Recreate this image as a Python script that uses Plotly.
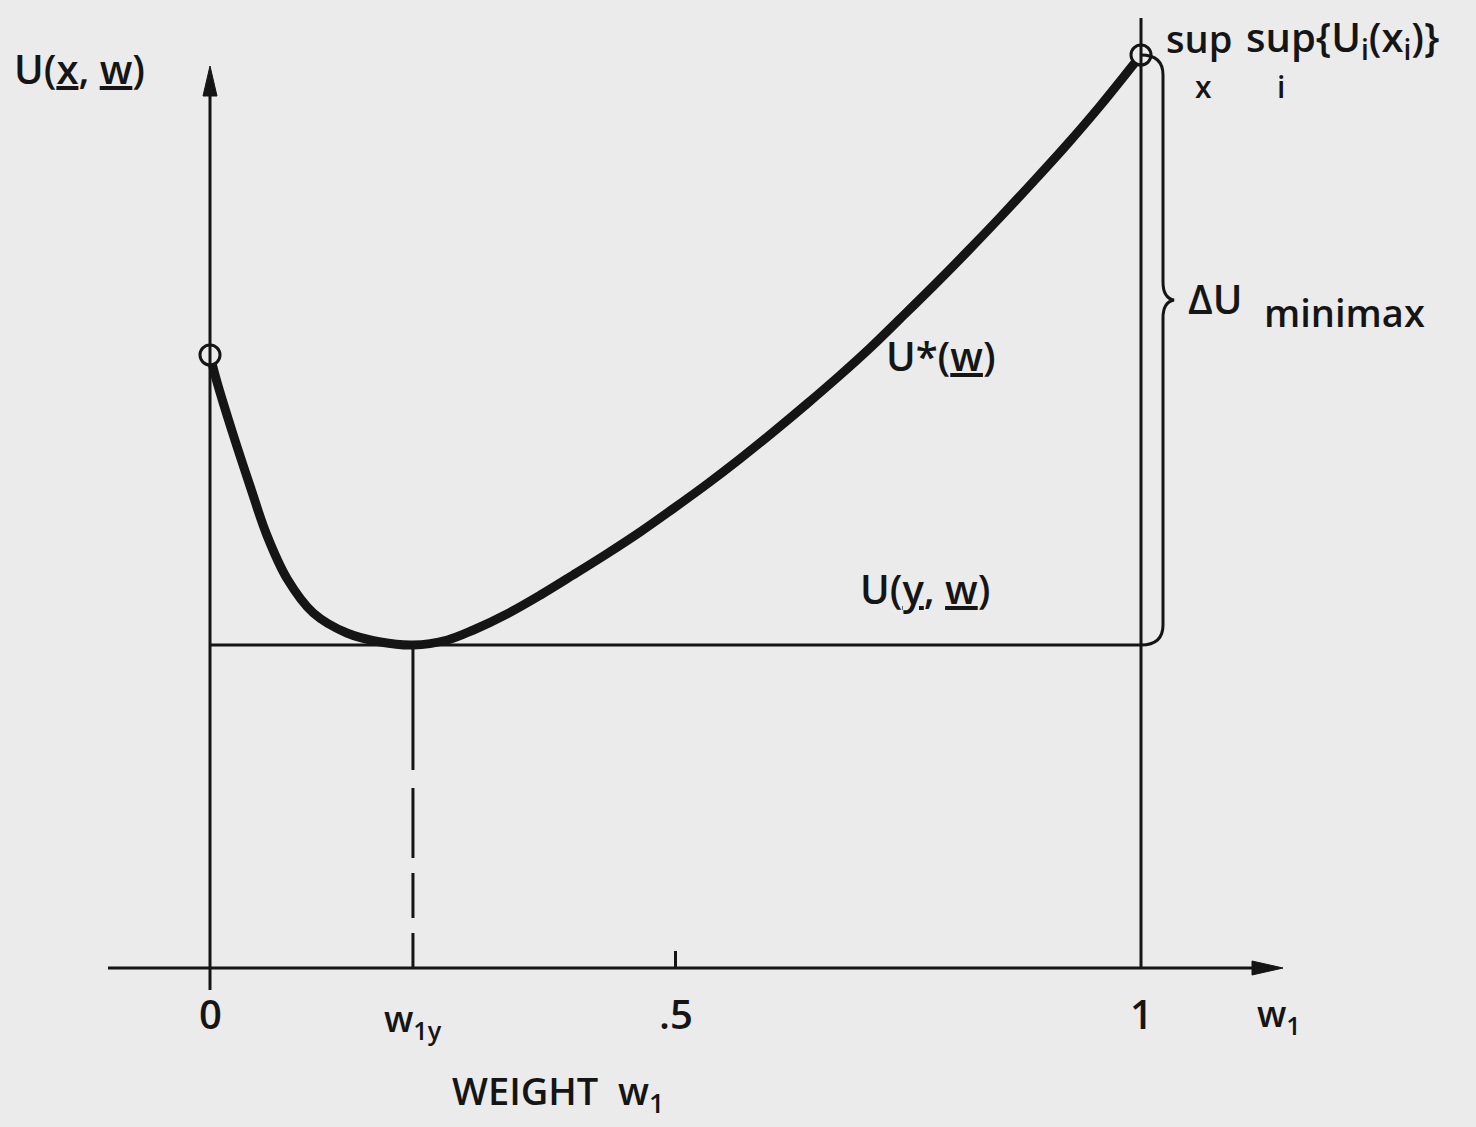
import plotly.graph_objects as go

# ---- data ----
w_vals = [0.0, 0.0075, 0.025, 0.043, 0.061, 0.083, 0.111, 0.147, 0.183, 0.218,
          0.255, 0.283, 0.319, 0.355, 0.390, 0.426, 0.462, 0.497, 0.534, 0.569,
          0.605, 0.641, 0.677, 0.709, 0.741, 0.777, 0.813, 0.849, 0.884, 0.921,
          0.956, 1.0]
u_star = [6.13, 5.86, 5.33, 4.82, 4.33, 3.89, 3.55, 3.35, 3.26, 3.23,
          3.28, 3.38, 3.54, 3.73, 3.93, 4.14, 4.36, 4.59, 4.84, 5.09,
          5.36, 5.64, 5.93, 6.20, 6.49, 6.82, 7.16, 7.51, 7.86, 8.24,
          8.62, 9.13]
x_tick_vals = [0, 0.5, 1]
x_tick_text = ["0", ".5", "1"]

# derived
u_y = min(u_star)
w_1y = w_vals[u_star.index(u_y)]
u_top = u_star[-1]

INK = "#151515"
BG = "#ebebeb"
FONT = "Open Sans"
WEIGHT = 600


# layout helpers (pixel -> axis units for decorations only)
def X(px):
    return (px - 210) / 931.0


def Y(py):
    return (968 - py) / 100.0


fig = go.Figure()

# main curve U*(w)
fig.add_trace(go.Scatter(x=w_vals, y=u_star, mode="lines",
                         line=dict(color=INK, width=9, shape="spline", smoothing=1.0),
                         hoverinfo="skip", showlegend=False))
# open end circles
fig.add_trace(go.Scatter(x=[w_vals[0], w_vals[-1]], y=[u_star[0], u_star[-1]], mode="markers",
                         marker=dict(size=20, color=BG, line=dict(color=INK, width=3)),
                         hoverinfo="skip", showlegend=False))

shapes = []
lw = 3
# x axis
shapes.append(dict(type="line", x0=X(108), x1=X(1262), y0=0, y1=0, line=dict(color=INK, width=lw)))
# y axis
shapes.append(dict(type="line", x0=0, x1=0, y0=Y(990), y1=Y(90), line=dict(color=INK, width=lw)))
# vertical line at w=1
shapes.append(dict(type="line", x0=1, x1=1, y0=0, y1=Y(18), line=dict(color=INK, width=lw)))
# horizontal level U(y,w)
shapes.append(dict(type="line", x0=0, x1=1, y0=u_y, y1=u_y, line=dict(color=INK, width=lw)))
# dashed drop line at w_1y
shapes.append(dict(type="line", x0=w_1y, x1=w_1y, y0=u_y, y1=0,
                   line=dict(color=INK, width=lw,
                             dash="125px,18px,70px,15px,45px,15px,45px")))
# .5 tick
shapes.append(dict(type="line", x0=0.5, x1=0.5, y0=0, y1=Y(951), line=dict(color=INK, width=lw)))
# arrowheads
shapes.append(dict(type="path", fillcolor=INK, line=dict(color=INK, width=1),
                   path=f"M {X(203)},{Y(96)} L {X(210)},{Y(66)} L {X(217)},{Y(96)} Z"))
shapes.append(dict(type="path", fillcolor=INK, line=dict(color=INK, width=1),
                   path=f"M {X(1252)},{Y(961)} L {X(1283)},{Y(968)} L {X(1252)},{Y(975)} Z"))
# brace for Delta U minimax
bx, tx = X(1163), X(1174)
shapes.append(dict(type="path", line=dict(color=INK, width=lw),
                   path=(f"M {X(1141)},{u_top} Q {bx},{u_top} {bx},{Y(75)} "
                         f"L {bx},{Y(282)} Q {bx},{Y(298)} {tx},{Y(300)} "
                         f"Q {bx},{Y(302)} {bx},{Y(318)} "
                         f"L {bx},{u_y + 0.2} Q {bx},{u_y} {X(1141)},{u_y}")))

ann = []


def T(text, px, py, size=38, xanchor="center"):
    ann.append(dict(text=text, x=X(px), y=Y(py), xref="x", yref="y", showarrow=False,
                    xanchor=xanchor, yanchor="middle",
                    font=dict(family=FONT, size=size, color=INK, weight=WEIGHT)))


T("U(<u>x</u>, <u>w</u>)", 12, 68, size=40, xanchor="left")
T("sup", 1164, 38, xanchor="left")
T("x", 1203, 86, size=30)
T("sup{U<sub>i</sub>(x<sub>i</sub>)}", 1244, 38, size=40, xanchor="left")
T("i", 1281, 86, size=30)
T("ΔU", 1186, 298, size=40, xanchor="left")
T("minimax", 1262, 312, size=38, xanchor="left")
T("U*(<u>w</u>)", 884, 355, size=40, xanchor="left")
T("U(<u>y</u>, <u>w</u>)", 858, 588, size=40, xanchor="left")
# tick labels from arrays
for v, t in zip(x_tick_vals, x_tick_text):
    ann.append(dict(text=t, x=v, y=Y(1013), xref="x", yref="y", showarrow=False,
                    xanchor="center", yanchor="middle",
                    font=dict(family=FONT, size=40, color=INK, weight=WEIGHT)))
ann.append(dict(text="w<sub>1y</sub>", x=w_1y, y=Y(1020), xref="x", yref="y", showarrow=False,
                xanchor="center", yanchor="middle",
                font=dict(family=FONT, size=36, color=INK, weight=WEIGHT)))
T("w<sub>1</sub>", 1255, 1015, size=36, xanchor="left")
T("WEIGHT  w<sub>1</sub>", 450, 1092, size=38, xanchor="left")

fig.update_layout(
    width=1476, height=1127,
    margin=dict(l=0, r=0, t=0, b=0),
    paper_bgcolor=BG, plot_bgcolor=BG,
    xaxis=dict(range=[X(0), X(1476)], visible=False, fixedrange=True),
    yaxis=dict(range=[Y(1127), Y(0)], visible=False, fixedrange=True),
    shapes=shapes, annotations=ann, showlegend=False,
)

fig.write_html("out.html", config={"displayModeBar": False},
               post_script="document.body.style.margin='0';")
